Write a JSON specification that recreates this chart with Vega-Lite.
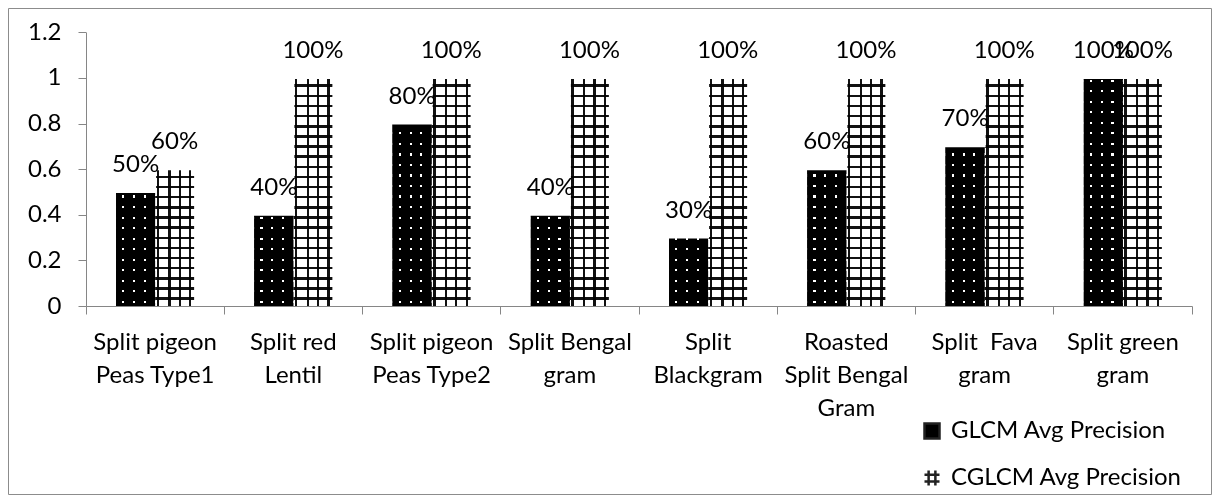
{
  "$schema": "https://vega.github.io/schema/vega-lite/v6.json",
  "width": 1203,
  "height": 486,
  "autosize": {"type": "none"},
  "padding": {"left": 8, "top": 8, "right": 6, "bottom": 1},
  "background": "white",
  "config": {
    "view": {"stroke": "#8c8c8c", "strokeWidth": 1},
    "axis": {
      "labelFont": "Lato",
      "labelFontSize": 24,
      "labelColor": "#000000",
      "domainColor": "#868686",
      "tickColor": "#868686",
      "tickSize": 8,
      "grid": false,
      "title": null
    },
    "legend": {
      "labelFont": "Lato",
      "labelFontSize": 24,
      "labelColor": "#000000",
      "labelLimit": 0
    }
  },
  "data": {
    "values": [
      {"category": "Split pigeon Peas Type1", "series": "GLCM Avg Precision", "value": 0.5},
      {"category": "Split pigeon Peas Type1", "series": "CGLCM Avg Precision", "value": 0.6},
      {"category": "Split red Lentil", "series": "GLCM Avg Precision", "value": 0.4},
      {"category": "Split red Lentil", "series": "CGLCM Avg Precision", "value": 1.0},
      {"category": "Split pigeon Peas Type2", "series": "GLCM Avg Precision", "value": 0.8},
      {"category": "Split pigeon Peas Type2", "series": "CGLCM Avg Precision", "value": 1.0},
      {"category": "Split Bengal gram", "series": "GLCM Avg Precision", "value": 0.4},
      {"category": "Split Bengal gram", "series": "CGLCM Avg Precision", "value": 1.0},
      {"category": "Split Blackgram", "series": "GLCM Avg Precision", "value": 0.3},
      {"category": "Split Blackgram", "series": "CGLCM Avg Precision", "value": 1.0},
      {"category": "Roasted Split Bengal Gram", "series": "GLCM Avg Precision", "value": 0.6},
      {"category": "Roasted Split Bengal Gram", "series": "CGLCM Avg Precision", "value": 1.0},
      {"category": "Split Fava gram", "series": "GLCM Avg Precision", "value": 0.7},
      {"category": "Split Fava gram", "series": "CGLCM Avg Precision", "value": 1.0},
      {"category": "Split green gram", "series": "GLCM Avg Precision", "value": 1.0},
      {"category": "Split green gram", "series": "CGLCM Avg Precision", "value": 1.0}
    ]
  },
  "encoding": {
    "x": {
      "field": "category",
      "type": "nominal",
      "sort": null,
      "scale": {"range": [78, 1184], "paddingInner": 0, "paddingOuter": 0},
      "axis": {
        "offset": -188,
        "bandPosition": 1,
        "tickExtra": true,
        "labelOffset": 0,
        "labelAngle": 0,
        "labelPadding": 16,
        "labelLineHeight": 33,
        "labelBaseline": "top",
        "labelExpr": "{'Split pigeon Peas Type1': ['Split pigeon', 'Peas Type1'], 'Split red Lentil': ['Split red', 'Lentil'], 'Split pigeon Peas Type2': ['Split pigeon', 'Peas Type2'], 'Split Bengal gram': ['Split Bengal', 'gram'], 'Split Blackgram': ['Split', 'Blackgram'], 'Roasted Split Bengal Gram': ['Roasted', 'Split Bengal', 'Gram'], 'Split Fava gram': ['Split \u00a0Fava', 'gram'], 'Split green gram': ['Split green', 'gram']}[datum.value]"
      }
    },
    "xOffset": {
      "field": "series",
      "type": "nominal",
      "sort": ["GLCM Avg Precision", "CGLCM Avg Precision"],
      "scale": {"paddingInner": 0, "paddingOuter": 0.7724}
    }
  },
  "layer": [
    {
      "mark": {"type": "bar"},
      "encoding": {
        "y": {
          "field": "value",
          "type": "quantitative",
          "scale": {"domain": [0, 1.2], "range": [298, 24.3], "nice": false, "zero": true},
          "axis": {
            "offset": -78,
            "values": [0, 0.2, 0.4, 0.6, 0.8, 1, 1.2],
            "format": "~g",
            "labelPadding": 17
          }
        },
        "fill": {
          "field": "series",
          "type": "nominal",
          "sort": ["GLCM Avg Precision", "CGLCM Avg Precision"],
          "scale": {"range": ["#000000", "#ffffff"]},
          "legend": {
            "orient": "none",
            "legendX": 912,
            "legendY": 411,
            "title": null,
            "symbolSize": 225,
            "symbolType": "square",
            "labelOffset": 7,
            "rowPadding": 21,
            "encode": {
              "symbols": {
                "update": {
                  "shape": {"signal": "datum.value === 'GLCM Avg Precision' ? 'square' : 'M-1,-0.45H1M-1,0.45H1M-0.45,-1V1M0.45,-1V1'"},
                  "fill": {"signal": "datum.value === 'GLCM Avg Precision' ? '#000000' : 'transparent'"},
                  "stroke": {"value": "#222222"},
                  "strokeWidth": {"value": 2.5}
                }
              }
            }
          }
        }
      }
    },
    {
      "mark": {"type": "bar"},
      "encoding": {
        "y": {"datum": 1.2, "type": "quantitative"},
        "y2": {"datum": 0},
        "fill": {
          "condition": {
            "test": "datum.series === 'GLCM Avg Precision'",
            "value": {"gradient": "linear", "x1": 0, "y1": 0, "x2": 1, "y2": 0, "stops": [
              {"offset": 0, "color": "#000000"}, {"offset": 0.155, "color": "#000000"},
              {"offset": 0.155, "color": "#ffffff"}, {"offset": 0.21, "color": "#ffffff"},
              {"offset": 0.21, "color": "#000000"}, {"offset": 0.435, "color": "#000000"},
              {"offset": 0.435, "color": "#ffffff"}, {"offset": 0.49, "color": "#ffffff"},
              {"offset": 0.49, "color": "#000000"}, {"offset": 0.705, "color": "#000000"},
              {"offset": 0.705, "color": "#ffffff"}, {"offset": 0.76, "color": "#ffffff"},
              {"offset": 0.76, "color": "#000000"}, {"offset": 1, "color": "#000000"}
            ]}
          },
          "value": {"gradient": "linear", "x1": 0, "y1": 0, "x2": 1, "y2": 0, "stops": [
            {"offset": 0, "color": "#ffffff"}, {"offset": 0.04, "color": "#ffffff"},
            {"offset": 0.04, "color": "#111111"}, {"offset": 0.1, "color": "#111111"},
            {"offset": 0.1, "color": "#ffffff"}, {"offset": 0.34, "color": "#ffffff"},
            {"offset": 0.34, "color": "#111111"}, {"offset": 0.4, "color": "#111111"},
            {"offset": 0.4, "color": "#ffffff"}, {"offset": 0.6, "color": "#ffffff"},
            {"offset": 0.6, "color": "#111111"}, {"offset": 0.66, "color": "#111111"},
            {"offset": 0.66, "color": "#ffffff"}, {"offset": 0.87, "color": "#ffffff"},
            {"offset": 0.87, "color": "#111111"}, {"offset": 0.93, "color": "#111111"},
            {"offset": 0.93, "color": "#ffffff"}, {"offset": 1, "color": "#ffffff"}
          ]}
        }
      }
    },
    {
      "mark": {"type": "bar", "blend": "multiply"},
      "encoding": {
        "y": {"datum": 1.2, "type": "quantitative"},
        "y2": {"datum": 0},
        "fill": {
          "condition": {
            "test": "datum.series === 'GLCM Avg Precision'",
            "value": {"gradient": "linear", "x1": 0, "y1": 0, "x2": 0, "y2": 1, "stops": [
              {"offset": 0, "color": "#000000"},
              {"offset": 0.0192, "color": "#000000"}, {"offset": 0.0192, "color": "#ffffff"}, {"offset": 0.0272, "color": "#ffffff"}, {"offset": 0.0272, "color": "#000000"},
              {"offset": 0.0577, "color": "#000000"}, {"offset": 0.0577, "color": "#ffffff"}, {"offset": 0.0657, "color": "#ffffff"}, {"offset": 0.0657, "color": "#000000"},
              {"offset": 0.0962, "color": "#000000"}, {"offset": 0.0962, "color": "#ffffff"}, {"offset": 0.1042, "color": "#ffffff"}, {"offset": 0.1042, "color": "#000000"},
              {"offset": 0.1346, "color": "#000000"}, {"offset": 0.1346, "color": "#ffffff"}, {"offset": 0.1426, "color": "#ffffff"}, {"offset": 0.1426, "color": "#000000"},
              {"offset": 0.1731, "color": "#000000"}, {"offset": 0.1731, "color": "#ffffff"}, {"offset": 0.1811, "color": "#ffffff"}, {"offset": 0.1811, "color": "#000000"},
              {"offset": 0.2115, "color": "#000000"}, {"offset": 0.2115, "color": "#ffffff"}, {"offset": 0.2195, "color": "#ffffff"}, {"offset": 0.2195, "color": "#000000"},
              {"offset": 0.25, "color": "#000000"}, {"offset": 0.25, "color": "#ffffff"}, {"offset": 0.258, "color": "#ffffff"}, {"offset": 0.258, "color": "#000000"},
              {"offset": 0.2885, "color": "#000000"}, {"offset": 0.2885, "color": "#ffffff"}, {"offset": 0.2965, "color": "#ffffff"}, {"offset": 0.2965, "color": "#000000"},
              {"offset": 0.3269, "color": "#000000"}, {"offset": 0.3269, "color": "#ffffff"}, {"offset": 0.3349, "color": "#ffffff"}, {"offset": 0.3349, "color": "#000000"},
              {"offset": 0.3654, "color": "#000000"}, {"offset": 0.3654, "color": "#ffffff"}, {"offset": 0.3734, "color": "#ffffff"}, {"offset": 0.3734, "color": "#000000"},
              {"offset": 0.4038, "color": "#000000"}, {"offset": 0.4038, "color": "#ffffff"}, {"offset": 0.4118, "color": "#ffffff"}, {"offset": 0.4118, "color": "#000000"},
              {"offset": 0.4423, "color": "#000000"}, {"offset": 0.4423, "color": "#ffffff"}, {"offset": 0.4503, "color": "#ffffff"}, {"offset": 0.4503, "color": "#000000"},
              {"offset": 0.4808, "color": "#000000"}, {"offset": 0.4808, "color": "#ffffff"}, {"offset": 0.4888, "color": "#ffffff"}, {"offset": 0.4888, "color": "#000000"},
              {"offset": 0.5192, "color": "#000000"}, {"offset": 0.5192, "color": "#ffffff"}, {"offset": 0.5272, "color": "#ffffff"}, {"offset": 0.5272, "color": "#000000"},
              {"offset": 0.5577, "color": "#000000"}, {"offset": 0.5577, "color": "#ffffff"}, {"offset": 0.5657, "color": "#ffffff"}, {"offset": 0.5657, "color": "#000000"},
              {"offset": 0.5962, "color": "#000000"}, {"offset": 0.5962, "color": "#ffffff"}, {"offset": 0.6042, "color": "#ffffff"}, {"offset": 0.6042, "color": "#000000"},
              {"offset": 0.6346, "color": "#000000"}, {"offset": 0.6346, "color": "#ffffff"}, {"offset": 0.6426, "color": "#ffffff"}, {"offset": 0.6426, "color": "#000000"},
              {"offset": 0.6731, "color": "#000000"}, {"offset": 0.6731, "color": "#ffffff"}, {"offset": 0.6811, "color": "#ffffff"}, {"offset": 0.6811, "color": "#000000"},
              {"offset": 0.7115, "color": "#000000"}, {"offset": 0.7115, "color": "#ffffff"}, {"offset": 0.7195, "color": "#ffffff"}, {"offset": 0.7195, "color": "#000000"},
              {"offset": 0.75, "color": "#000000"}, {"offset": 0.75, "color": "#ffffff"}, {"offset": 0.758, "color": "#ffffff"}, {"offset": 0.758, "color": "#000000"},
              {"offset": 0.7885, "color": "#000000"}, {"offset": 0.7885, "color": "#ffffff"}, {"offset": 0.7965, "color": "#ffffff"}, {"offset": 0.7965, "color": "#000000"},
              {"offset": 0.8269, "color": "#000000"}, {"offset": 0.8269, "color": "#ffffff"}, {"offset": 0.8349, "color": "#ffffff"}, {"offset": 0.8349, "color": "#000000"},
              {"offset": 0.8654, "color": "#000000"}, {"offset": 0.8654, "color": "#ffffff"}, {"offset": 0.8734, "color": "#ffffff"}, {"offset": 0.8734, "color": "#000000"},
              {"offset": 0.9038, "color": "#000000"}, {"offset": 0.9038, "color": "#ffffff"}, {"offset": 0.9118, "color": "#ffffff"}, {"offset": 0.9118, "color": "#000000"},
              {"offset": 0.9423, "color": "#000000"}, {"offset": 0.9423, "color": "#ffffff"}, {"offset": 0.9503, "color": "#ffffff"}, {"offset": 0.9503, "color": "#000000"},
              {"offset": 0.9808, "color": "#000000"}, {"offset": 0.9808, "color": "#ffffff"}, {"offset": 0.9888, "color": "#ffffff"}, {"offset": 0.9888, "color": "#000000"},
              {"offset": 1, "color": "#000000"}
            ]}
          },
          "value": {"gradient": "linear", "x1": 0, "y1": 0, "x2": 0, "y2": 1, "stops": [
            {"offset": 0, "color": "#ffffff"},
            {"offset": 0.0056, "color": "#ffffff"}, {"offset": 0.0056, "color": "#111111"}, {"offset": 0.0146, "color": "#111111"}, {"offset": 0.0146, "color": "#ffffff"},
            {"offset": 0.0426, "color": "#ffffff"}, {"offset": 0.0426, "color": "#111111"}, {"offset": 0.0516, "color": "#111111"}, {"offset": 0.0516, "color": "#ffffff"},
            {"offset": 0.0796, "color": "#ffffff"}, {"offset": 0.0796, "color": "#111111"}, {"offset": 0.0886, "color": "#111111"}, {"offset": 0.0886, "color": "#ffffff"},
            {"offset": 0.1167, "color": "#ffffff"}, {"offset": 0.1167, "color": "#111111"}, {"offset": 0.1257, "color": "#111111"}, {"offset": 0.1257, "color": "#ffffff"},
            {"offset": 0.1537, "color": "#ffffff"}, {"offset": 0.1537, "color": "#111111"}, {"offset": 0.1627, "color": "#111111"}, {"offset": 0.1627, "color": "#ffffff"},
            {"offset": 0.1907, "color": "#ffffff"}, {"offset": 0.1907, "color": "#111111"}, {"offset": 0.1997, "color": "#111111"}, {"offset": 0.1997, "color": "#ffffff"},
            {"offset": 0.2278, "color": "#ffffff"}, {"offset": 0.2278, "color": "#111111"}, {"offset": 0.2368, "color": "#111111"}, {"offset": 0.2368, "color": "#ffffff"},
            {"offset": 0.2648, "color": "#ffffff"}, {"offset": 0.2648, "color": "#111111"}, {"offset": 0.2738, "color": "#111111"}, {"offset": 0.2738, "color": "#ffffff"},
            {"offset": 0.3019, "color": "#ffffff"}, {"offset": 0.3019, "color": "#111111"}, {"offset": 0.3109, "color": "#111111"}, {"offset": 0.3109, "color": "#ffffff"},
            {"offset": 0.3389, "color": "#ffffff"}, {"offset": 0.3389, "color": "#111111"}, {"offset": 0.3479, "color": "#111111"}, {"offset": 0.3479, "color": "#ffffff"},
            {"offset": 0.3759, "color": "#ffffff"}, {"offset": 0.3759, "color": "#111111"}, {"offset": 0.3849, "color": "#111111"}, {"offset": 0.3849, "color": "#ffffff"},
            {"offset": 0.413, "color": "#ffffff"}, {"offset": 0.413, "color": "#111111"}, {"offset": 0.422, "color": "#111111"}, {"offset": 0.422, "color": "#ffffff"},
            {"offset": 0.45, "color": "#ffffff"}, {"offset": 0.45, "color": "#111111"}, {"offset": 0.459, "color": "#111111"}, {"offset": 0.459, "color": "#ffffff"},
            {"offset": 0.487, "color": "#ffffff"}, {"offset": 0.487, "color": "#111111"}, {"offset": 0.496, "color": "#111111"}, {"offset": 0.496, "color": "#ffffff"},
            {"offset": 0.5241, "color": "#ffffff"}, {"offset": 0.5241, "color": "#111111"}, {"offset": 0.5331, "color": "#111111"}, {"offset": 0.5331, "color": "#ffffff"},
            {"offset": 0.5611, "color": "#ffffff"}, {"offset": 0.5611, "color": "#111111"}, {"offset": 0.5701, "color": "#111111"}, {"offset": 0.5701, "color": "#ffffff"},
            {"offset": 0.5981, "color": "#ffffff"}, {"offset": 0.5981, "color": "#111111"}, {"offset": 0.6071, "color": "#111111"}, {"offset": 0.6071, "color": "#ffffff"},
            {"offset": 0.6352, "color": "#ffffff"}, {"offset": 0.6352, "color": "#111111"}, {"offset": 0.6442, "color": "#111111"}, {"offset": 0.6442, "color": "#ffffff"},
            {"offset": 0.6722, "color": "#ffffff"}, {"offset": 0.6722, "color": "#111111"}, {"offset": 0.6812, "color": "#111111"}, {"offset": 0.6812, "color": "#ffffff"},
            {"offset": 0.7093, "color": "#ffffff"}, {"offset": 0.7093, "color": "#111111"}, {"offset": 0.7183, "color": "#111111"}, {"offset": 0.7183, "color": "#ffffff"},
            {"offset": 0.7463, "color": "#ffffff"}, {"offset": 0.7463, "color": "#111111"}, {"offset": 0.7553, "color": "#111111"}, {"offset": 0.7553, "color": "#ffffff"},
            {"offset": 0.7833, "color": "#ffffff"}, {"offset": 0.7833, "color": "#111111"}, {"offset": 0.7923, "color": "#111111"}, {"offset": 0.7923, "color": "#ffffff"},
            {"offset": 0.8204, "color": "#ffffff"}, {"offset": 0.8204, "color": "#111111"}, {"offset": 0.8294, "color": "#111111"}, {"offset": 0.8294, "color": "#ffffff"},
            {"offset": 0.8574, "color": "#ffffff"}, {"offset": 0.8574, "color": "#111111"}, {"offset": 0.8664, "color": "#111111"}, {"offset": 0.8664, "color": "#ffffff"},
            {"offset": 0.8944, "color": "#ffffff"}, {"offset": 0.8944, "color": "#111111"}, {"offset": 0.9034, "color": "#111111"}, {"offset": 0.9034, "color": "#ffffff"},
            {"offset": 0.9315, "color": "#ffffff"}, {"offset": 0.9315, "color": "#111111"}, {"offset": 0.9405, "color": "#111111"}, {"offset": 0.9405, "color": "#ffffff"},
            {"offset": 0.9685, "color": "#ffffff"}, {"offset": 0.9685, "color": "#111111"}, {"offset": 0.9775, "color": "#111111"}, {"offset": 0.9775, "color": "#ffffff"},
            {"offset": 1, "color": "#ffffff"}
          ]}
        }
      }
    },
    {
      "mark": {"type": "bar", "fill": "#ffffff", "stroke": "#ffffff", "strokeWidth": 2},
      "encoding": {
        "y": {"field": "value", "type": "quantitative"},
        "y2": {"datum": 1.2}
      }
    },
    {
      "mark": {"type": "text", "baseline": "alphabetic", "align": "center", "dy": -20, "font": "Lato", "fontSize": 24, "color": "#000000"},
      "encoding": {
        "y": {"field": "value", "type": "quantitative"},
        "text": {"field": "value", "type": "quantitative", "format": ".0%"}
      }
    }
  ]
}
